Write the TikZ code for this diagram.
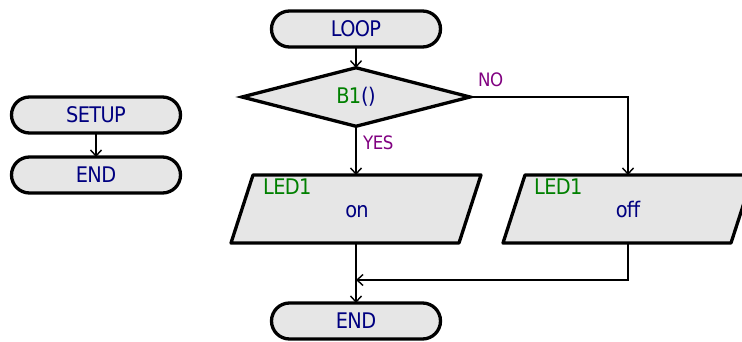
\documentclass[tikz,border=0pt]{standalone}
\usepackage{fontspec}
\setmainfont[LetterSpace=-3]{DejaVu Sans Condensed}
\usetikzlibrary{shapes.geometric,arrows.meta}
\definecolor{navy}{RGB}{0,0,128}
\definecolor{grn}{RGB}{0,128,0}
\definecolor{purp}{RGB}{128,0,128}
\definecolor{boxfill}{RGB}{230,230,230}
\newcommand{\mainsz}{\fontsize{21.5}{25}\selectfont}
\newcommand{\lblsz}{\fontsize{18.5}{22}\selectfont}
\begin{document}
\begin{tikzpicture}[x=1pt,y=-1pt,
  term/.style={draw, line width=3.3pt, fill=boxfill, rounded corners=18pt,
    minimum width=169pt, minimum height=36pt, inner sep=0pt, outer sep=0pt,
    text=navy, font=\mainsz},
  decision/.style={diamond, draw, line width=3.3pt, fill=boxfill,
    minimum width=228pt, minimum height=58pt, inner sep=0pt, outer sep=0pt,
    text=navy, font=\mainsz},
  iobox/.style={rectangle, minimum width=228pt, minimum height=68pt,
    inner sep=0pt, outer sep=0pt},
  iofill/.style={draw, line width=3.3pt, fill=boxfill, line join=round},
  vartxt/.style={text=grn, font=\mainsz, inner sep=0pt, anchor=base west},
  valtxt/.style={text=navy, font=\mainsz, inner sep=0pt, anchor=base},
  lbl/.style={text=purp, font=\lblsz, inner sep=0pt, anchor=west},
  conn/.style={line width=1.4pt, -{Straight Barb[length=6pt,width=11pt]}}
]
\path[use as bounding box] (0,0) rectangle (742,342);
\clip (0,0) rectangle (742,342);

% left column
\node[term] (setup) at (96,115) {SETUP};
\node[term] (end1) at (96,175) {END};
\draw[conn] (setup.south) -- (end1.north);

% main flow
\node[term] (loop) at (356,29) {LOOP};
\node[decision] (dec) at (356,97) {{\color{grn}B1}()};

\node[iobox] (on) at (356,209) {};
\draw[iofill] ([xshift=11pt]on.north west) -- ([xshift=11pt]on.north east)
  -- ([xshift=-11pt]on.south east) -- ([xshift=-11pt]on.south west) -- cycle;
\node[vartxt] (onvar) at (263,194) {LED1};
\node[valtxt] (onval) at (357,218) {on};

\node[iobox] (off) at (628,209) {};
\draw[iofill] ([xshift=11pt]off.north west) -- ([xshift=11pt]off.north east)
  -- ([xshift=-11pt]off.south east) -- ([xshift=-11pt]off.south west) -- cycle;
\node[vartxt] (offvar) at (534,194) {LED1};
\node[valtxt] (offval) at (628,218) {off};

\node[term] (end2) at (356,321) {END};

\coordinate (mj) at (356,280);

\draw[conn] (loop.south) -- (dec.north);
\draw[conn] (dec.south) -- (on.north);
\draw[conn] (dec.east) -| (off.north);
\draw[conn] (on.south) -- (end2.north);
\draw[conn] (off.south) |- (mj);

\node[lbl] (yes) at (363,143) {YES};
\node[lbl] (no) at (478,80) {NO};
\end{tikzpicture}
\end{document}
